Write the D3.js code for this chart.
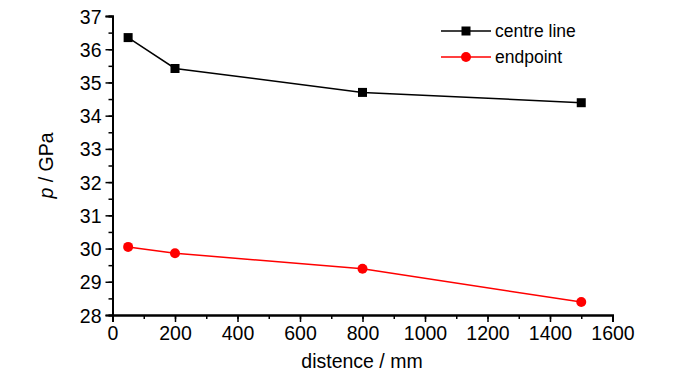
<!DOCTYPE html>
<html><head><meta charset="utf-8">
<script src="https://cdn.jsdelivr.net/npm/d3@7"></script>
<style>
body{margin:0;background:#fff;}
text{font-family:"Liberation Sans",Arial,sans-serif;fill:#000;}
</style></head><body>
<svg id="c" width="700" height="374"></svg>
<script>
const distances = [50, 200, 800, 1500];
const centreLine = [36.35, 35.42, 34.70, 34.39];
const endpoint = [30.05, 29.86, 29.39, 28.39];
const xTicks = [0, 200, 400, 600, 800, 1000, 1200, 1400, 1600];
const yTicks = [28, 29, 30, 31, 32, 33, 34, 35, 36, 37];
const seriesNames = ["centre line", "endpoint"];

const svg = d3.select("#c");
const x = d3.scaleLinear().domain([0, 1600]).range([112.5, 612.5]);
const y = d3.scaleLinear().domain([28, 37]).range([315, 16]);

const xMinor = d3.range(0, 1601, 100);
const yMinor = d3.range(28, 37.01, 0.5);
const gx = svg.append("g").attr("transform", "translate(0,315)");
gx.call(d3.axisBottom(x).tickValues(xMinor).tickSize(4).tickFormat(""));
gx.append("g").call(d3.axisBottom(x).tickValues(xTicks).tickSize(7).tickPadding(4).tickFormat(d3.format("d")));
const gy = svg.append("g").attr("transform", "translate(112.5,0)");
gy.call(d3.axisLeft(y).tickValues(yMinor).tickSize(4).tickFormat(""));
gy.append("g").call(d3.axisLeft(y).tickValues(yTicks).tickSize(7).tickPadding(4).tickFormat(d3.format("d")));
svg.selectAll(".tick line").attr("stroke-width", 1.5);
svg.selectAll("path.domain").attr("stroke-width", 2).attr("stroke", "#000");
svg.selectAll(".tick text").attr("font-size", 19.5);
gy.selectAll(".tick text").attr("dy", "0.36em");

svg.append("text").attr("x", 362).attr("y", 368).attr("text-anchor", "middle").attr("font-size", 19.5).text("distence / mm");
const yl = svg.append("text").attr("transform", "translate(53,165.5) rotate(-90)").attr("text-anchor", "middle").attr("font-size", 19.5);
yl.append("tspan").attr("font-style", "italic").text("p");
yl.append("tspan").text(" / GPa");

const line = d3.line().x(d => x(d[0])).y(d => y(d[1]));
const d1 = distances.map((d, i) => [d, centreLine[i]]);
const d2 = distances.map((d, i) => [d, endpoint[i]]);

svg.append("path").datum(d1).attr("d", line).attr("fill", "none").attr("stroke", "#000").attr("stroke-width", 1.5);
svg.append("path").datum(d2).attr("d", line).attr("fill", "none").attr("stroke", "#ff0000").attr("stroke-width", 1.5);
svg.selectAll(".sq").data(d1).enter().append("rect")
  .attr("x", d => x(d[0]) - 4.5).attr("y", d => y(d[1]) - 4.5).attr("width", 9).attr("height", 9).attr("fill", "#000");
svg.selectAll(".ci").data(d2).enter().append("circle")
  .attr("cx", d => x(d[0])).attr("cy", d => y(d[1])).attr("r", 5).attr("fill", "#ff0000");

const lg = svg.append("g");
lg.append("line").attr("x1", 441).attr("x2", 491).attr("y1", 31).attr("y2", 31).attr("stroke", "#000").attr("stroke-width", 1.5);
lg.append("rect").attr("x", 466 - 4.5).attr("y", 31 - 4.5).attr("width", 9).attr("height", 9).attr("fill", "#000");
lg.append("text").attr("x", 495).attr("y", 31).attr("dy", "0.36em").attr("font-size", 17.5).text(seriesNames[0]);
lg.append("line").attr("x1", 441).attr("x2", 491).attr("y1", 57).attr("y2", 57).attr("stroke", "#ff0000").attr("stroke-width", 1.5);
lg.append("circle").attr("cx", 466).attr("cy", 57).attr("r", 5).attr("fill", "#ff0000");
lg.append("text").attr("x", 495).attr("y", 57).attr("dy", "0.36em").attr("font-size", 17.5).text(seriesNames[1]);
</script>
</body></html>
